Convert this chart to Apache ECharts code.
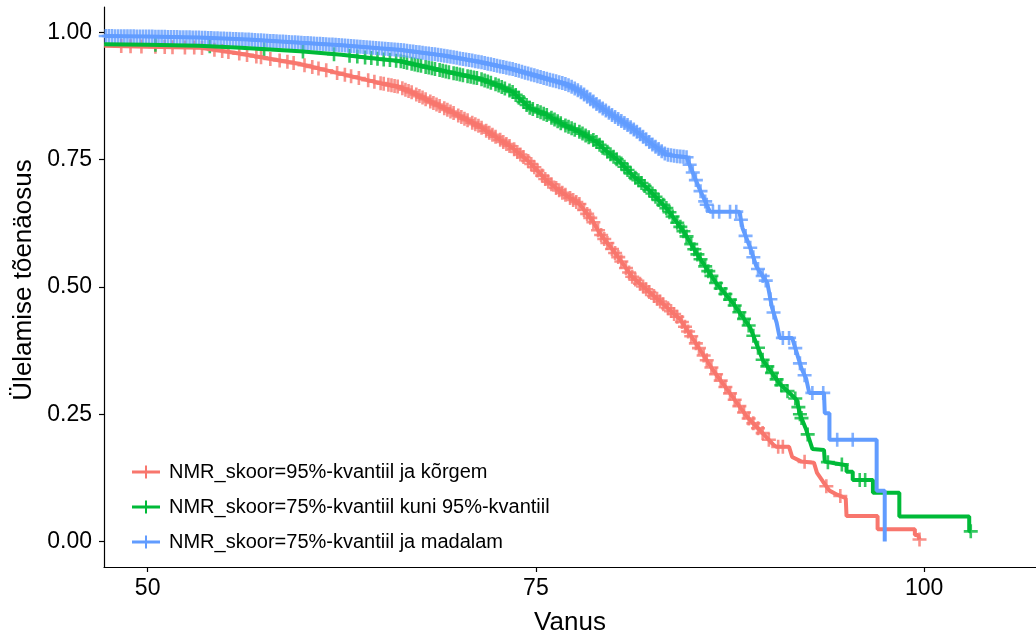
<!DOCTYPE html>
<html><head><meta charset="utf-8">
<script src="https://cdn.jsdelivr.net/npm/echarts@6/dist/echarts.min.js"></script>
<style>html,body{margin:0;padding:0;background:#fff}#c{width:1036px;height:637px}</style>
</head><body><div id="c"></div>
<script>
const seriesNames = [
  'NMR_skoor=95%-kvantiil ja kõrgem',
  'NMR_skoor=75%-kvantiil kuni 95%-kvantiil',
  'NMR_skoor=75%-kvantiil ja madalam'
];
const colors = ['#F8766D', '#00BA38', '#619CFF'];
const xTicks = [50, 75, 100];
const yTicks = [0, 0.25, 0.5, 0.75, 1];

// Red: 95%-kvantiil ja kõrgem
const redAge  = [47.2,50.0,53.4,56.0,59.8,62.0,64.9,66.2,67.1,69.3,71.4,73.5,74.6,75.7,76.7,77.8,78.65,79.1,80.2,81.2,82.3,83.4,84.3,85.35,86.4,87.5,88.6,89.6,90.3,90.5,91.3,91.5,92.1,92.9,93.1,93.5,93.9,94.4,94.95,95.0,97.0,97.0,99.4,99.4,99.6,99.7];
const redSurv = [0.974,0.972,0.970,0.958,0.938,0.922,0.901,0.893,0.881,0.848,0.815,0.773,0.745,0.709,0.685,0.663,0.630,0.606,0.563,0.520,0.490,0.461,0.436,0.387,0.337,0.291,0.245,0.213,0.190,0.186,0.186,0.166,0.157,0.155,0.135,0.117,0.100,0.092,0.085,0.050,0.050,0.024,0.024,0.013,0.013,0.004];
const redCensor = [48.3,48.9,49.6,50.5,51.1,51.6,52.4,53.0,53.5,54.3,54.8,55.2,55.9,56.4,57.0,57.3,57.9,58.5,59.0,59.4,60.1,60.6,61.0,61.5,62.2,62.7,63.1,63.6,64.2,64.6,
  65.0,65.2,65.5,65.7,65.9,66.1,66.4,66.6,66.8,67.0,67.3,67.5,67.7,67.9,68.2,68.4,68.6,68.8,69.1,69.3,69.5,69.7,70.0,70.2,70.4,70.6,70.9,71.1,71.3,71.5,71.8,72.0,72.2,72.4,72.7,72.9,73.1,73.3,73.6,73.8,74.0,74.2,74.5,74.7,74.9,75.1,75.4,75.6,75.8,76.0,76.3,76.5,76.7,76.9,77.2,77.4,77.6,77.8,78.1,78.3,78.5,78.7,79.0,79.2,79.4,79.6,79.9,80.1,80.3,80.5,80.8,81.0,81.2,81.4,81.7,81.9,82.1,82.3,82.6,82.8,83.0,83.2,83.5,83.7,83.9,84.1,84.4,84.6,84.8,85.0,85.3,85.5,85.8,86.0,86.3,86.6,86.9,87.2,87.5,87.8,88.1,88.4,88.7,89.0,89.3,89.6,90.0,90.6,90.9,92.3,93.7,94.6,99.7];

// Green: 75%-kvantiil kuni 95%-kvantiil
const greenAge  = [47.2,50.0,53.3,56.0,59.8,62.5,64.9,66.2,69.25,71.4,72.5,73.5,74.6,75.7,76.7,77.8,78.9,79.5,80.4,81.2,81.7,82.3,83.4,84.45,85.5,86.6,87.7,88.8,89.6,90.7,91.8,92.0,92.4,92.8,93.55,93.6,94.6,95.0,95.0,95.4,95.4,96.7,96.7,98.4,98.4,102.9,102.9,103.0];
const greenSurv = [0.977,0.976,0.974,0.970,0.963,0.956,0.948,0.944,0.923,0.909,0.897,0.883,0.852,0.838,0.820,0.805,0.785,0.768,0.746,0.720,0.707,0.690,0.655,0.612,0.559,0.508,0.468,0.420,0.357,0.310,0.278,0.250,0.220,0.182,0.180,0.157,0.152,0.150,0.137,0.137,0.121,0.121,0.096,0.096,0.049,0.049,0.020,0.020];
const greenCensor = [50.5,54.0,57.5,60.0,62.0,63.0,63.5,64.0,64.4,64.8,65.2,65.6,66.0,
  66.3,66.5,66.7,67.0,67.2,67.4,67.6,67.9,68.1,68.3,68.5,68.8,69.0,69.2,69.4,69.7,69.9,70.1,70.3,70.6,70.8,71.0,71.2,71.5,71.7,71.9,72.1,72.4,72.6,72.8,73.0,73.3,73.5,73.7,73.9,74.2,74.4,74.6,74.8,75.1,75.3,75.5,75.7,76.0,76.2,76.4,76.6,76.9,77.1,77.3,77.5,77.8,78.0,78.2,78.4,78.7,78.9,79.1,79.3,79.6,79.8,80.0,80.2,80.5,80.7,80.9,81.1,81.4,81.6,81.8,82.0,82.3,82.5,82.7,82.9,83.2,83.4,83.6,83.8,84.1,84.3,84.5,84.7,85.0,85.2,85.4,85.6,85.9,86.1,86.3,86.6,86.9,87.2,87.5,87.8,88.1,88.4,88.7,89.0,89.3,89.6,89.9,90.2,90.5,90.8,91.2,91.7,91.9,92.0,92.1,92.5,93.8,94.7,95.85,96.2,103.0];

// Blue: 75%-kvantiil ja madalam
const blueAge  = [47.2,50.0,53.3,56.5,59.8,62.5,64.9,66.2,69.0,71.4,73.5,75.7,77.0,77.8,79.1,79.9,81.2,81.7,82.5,83.4,84.1,84.7,85.5,86.2,88.1,88.3,88.8,89.2,89.9,90.2,90.5,90.7,91.5,91.8,92.1,92.4,92.6,93.55,93.6,93.9,93.9,96.94,96.94,97.46,97.46];
const blueSurv = [0.993,0.992,0.990,0.986,0.980,0.975,0.969,0.966,0.955,0.942,0.928,0.909,0.898,0.885,0.855,0.838,0.812,0.800,0.780,0.760,0.757,0.755,0.695,0.648,0.648,0.616,0.577,0.540,0.508,0.460,0.430,0.400,0.400,0.370,0.340,0.320,0.292,0.292,0.252,0.252,0.200,0.200,0.100,0.100,0.000];
const blueCensor = [47.3,47.5,47.7,47.9,48.1,48.3,48.5,48.7,48.9,49.1,49.3,49.5,49.7,49.9,50.1,50.3,50.5,50.7,50.9,51.1,51.3,51.5,51.7,51.9,52.1,52.3,52.5,52.7,52.9,53.1,53.3,53.5,53.7,53.9,54.1,54.3,54.5,54.7,54.9,55.1,55.3,55.5,55.7,55.9,56.1,56.3,56.5,56.7,56.9,57.1,57.3,57.5,57.7,57.9,58.1,58.3,58.5,58.7,58.9,59.1,59.3,59.5,59.7,59.9,60.1,60.3,60.5,60.7,60.9,61.1,61.3,61.5,61.7,61.9,62.1,62.3,62.5,62.7,62.9,63.1,63.3,63.5,63.7,63.9,64.1,64.3,64.5,64.7,64.9,65.1,65.3,65.5,65.7,65.9,66.1,66.3,66.5,66.7,66.9,67.1,67.3,67.5,67.7,67.9,68.1,68.3,68.5,68.7,68.9,69.1,69.3,69.5,69.7,69.9,70.1,70.3,70.5,70.7,70.9,71.1,71.3,71.5,71.7,71.9,72.1,72.3,72.5,72.7,72.9,73.1,73.3,73.5,73.7,73.9,74.1,74.3,74.5,74.7,74.9,75.1,75.3,75.5,75.7,75.9,76.1,76.3,76.5,76.7,76.9,77.1,77.3,77.5,77.7,77.9,78.1,78.3,78.5,78.7,78.9,79.1,79.3,79.5,79.7,79.9,80.1,80.3,80.5,80.7,80.9,81.1,81.3,81.5,81.7,81.9,82.1,82.3,82.5,82.7,82.9,83.1,83.3,83.5,83.7,83.9,84.1,84.3,84.5,84.7,84.9,85.1,85.3,85.6,85.9,86.0,86.4,86.8,87.5,87.9,88.2,88.5,88.8,89.0,89.3,89.6,89.8,90.1,90.3,90.9,91.3,91.7,92.0,92.3,92.8,93.5,94.4,95.4];

function survAt(ages, surv, t) {
  for (let i = 0; i < ages.length - 1; i++) {
    if (t >= ages[i] && t <= ages[i + 1] && ages[i + 1] > ages[i]) {
      const f = (t - ages[i]) / (ages[i + 1] - ages[i]);
      return surv[i] + f * (surv[i + 1] - surv[i]);
    }
  }
  return surv[surv.length - 1];
}

const plusPath = 'path://M5.7,0H8.3V5.7H14V8.3H8.3V14H5.7V8.3H0V5.7H5.7Z';
const legendPath = 'path://M0,5H13V0H15V5H28V8H15V13H13V8H0Z';
const FONT = '"Liberation Sans", Arial, sans-serif';

const groups = [
  [redAge, redSurv, redCensor],
  [greenAge, greenSurv, greenCensor],
  [blueAge, blueSurv, blueCensor]
];
const series = [];
groups.forEach((g, k) => {
  const [ages, surv, cens] = g;
  series.push({
    name: seriesNames[k], type: 'line', data: ages.map((a, i) => [a, surv[i]]),
    showSymbol: false, symbol: 'none', lineStyle: { width: 4, color: colors[k] },
    itemStyle: { color: colors[k] }, clip: true, silent: true
  });
  series.push({
    name: seriesNames[k], type: 'scatter', data: cens.map(t => [t, survAt(ages, surv, t)]),
    symbol: plusPath, symbolSize: 14, itemStyle: { color: colors[k] }, silent: true
  });
});

const chart = echarts.init(document.getElementById('c'), null, { renderer: 'canvas' });
chart.setOption({
  animation: false,
  backgroundColor: '#fff',
  textStyle: { fontFamily: FONT },
  grid: { left: 104, right: 0, top: 7, bottom: 70, containLabel: false, outerBoundsMode: 'none' },
  legend: {
    orient: 'vertical', left: 127, top: 457,
    itemWidth: 28, itemHeight: 13, itemGap: 15,
    textStyle: { fontSize: 20, color: '#000', fontFamily: FONT, lineHeight: 20, padding: [0, 0, 0, 4] },
    data: seriesNames.map(n => ({ name: n, icon: legendPath })),
    selectedMode: false
  },
  xAxis: {
    type: 'value', min: 47.19, max: 107.2,
    name: 'Vanus', nameLocation: 'middle', nameGap: 43,
    nameTextStyle: { fontSize: 26, color: '#000', fontFamily: FONT },
    axisLine: { onZero: false, lineStyle: { color: '#000', width: 1.2 } },
    axisTick: { customValues: xTicks, length: 5, lineStyle: { color: '#000', width: 1.2 } },
    axisLabel: { customValues: xTicks, fontSize: 23, color: '#000', margin: 10, fontFamily: FONT },
    splitLine: { show: false }
  },
  yAxis: {
    type: 'value', min: -0.05, max: 1.05,
    name: 'Ülelamise tõenäosus', nameLocation: 'middle', nameGap: 61,
    nameTextStyle: { fontSize: 26, color: '#000', fontFamily: FONT, padding: [0, 0, 0, 14] },
    axisLine: { show: true, onZero: false, lineStyle: { color: '#000', width: 1.2 } },
    axisTick: { show: true, customValues: yTicks, length: 5, lineStyle: { color: '#000', width: 1.2 } },
    axisLabel: { customValues: yTicks, fontSize: 23, color: '#000', margin: 12, fontFamily: FONT,
      formatter: v => v.toFixed(2) },
    splitLine: { show: false }
  },
  series: series
});
</script>
</body></html>
